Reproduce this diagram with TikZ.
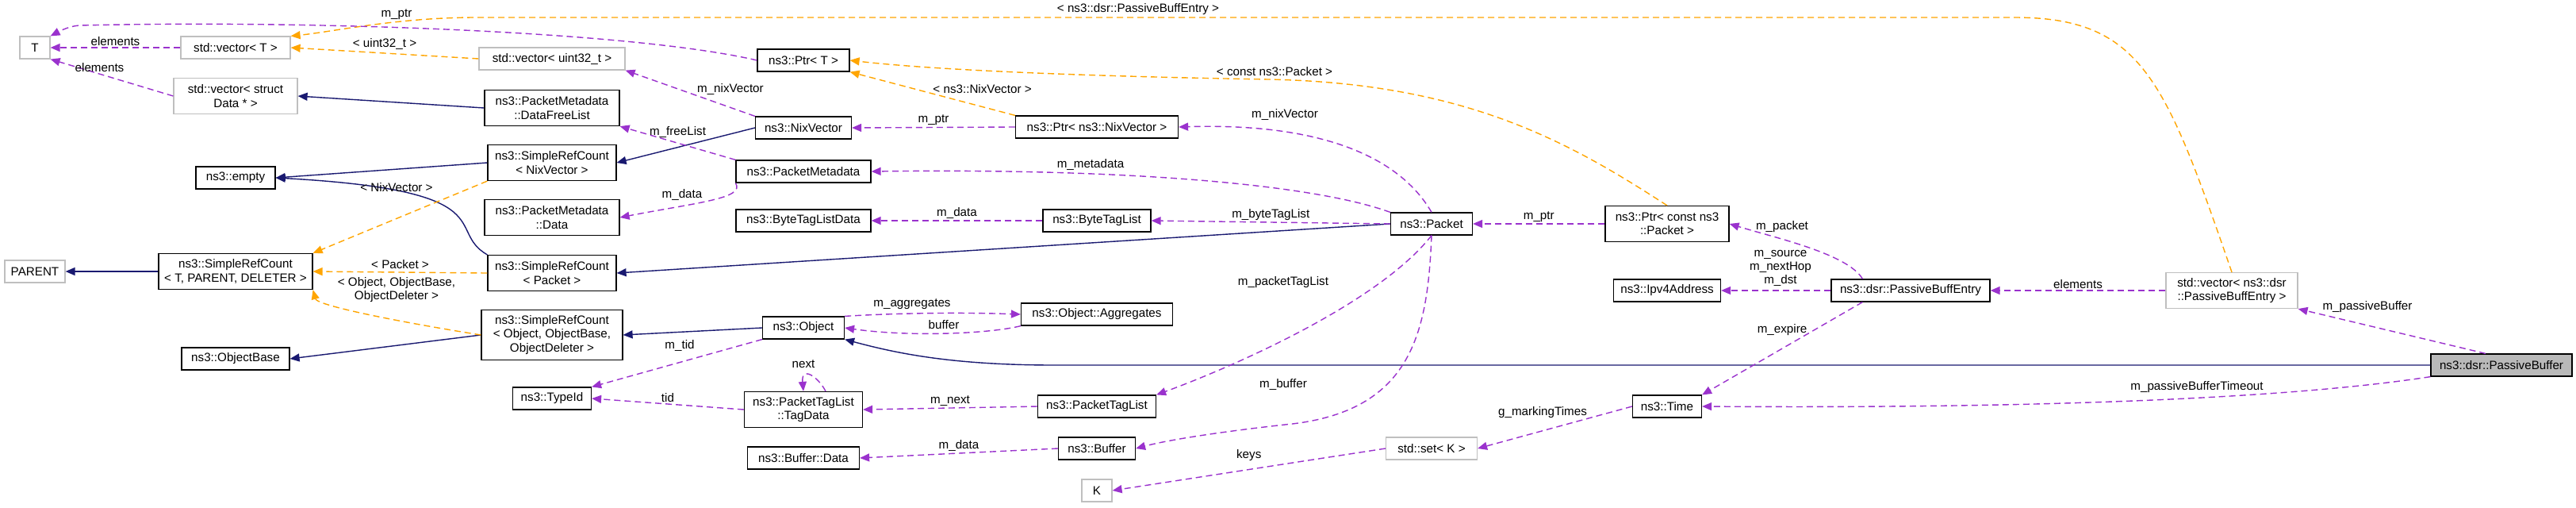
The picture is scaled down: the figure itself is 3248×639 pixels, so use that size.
\documentclass[tikz,border=0pt]{standalone}
\usepackage{fontspec}
\setmainfont{Liberation Sans}
\usetikzlibrary{arrows.meta}
\definecolor{inh}{HTML}{191970}
\definecolor{usr}{HTML}{9A32CD}
\definecolor{tpl}{HTML}{FFA500}
\begin{document}
\begin{tikzpicture}[x=0.5pt,y=-0.5pt,
  font=\fontsize{7.6}{8.6}\selectfont,
  box/.style={draw=black,line width=0.6pt,fill=white,align=center,inner sep=1pt,minimum height=14pt},
  gbox/.style={box,draw=gray!50},
  b2/.style={minimum height=22.5pt},
  b3/.style={minimum height=31.5pt},
  lab/.style={inner sep=0pt,align=center},
  use/.style={draw=usr,line width=0.7pt,dash pattern=on 4pt off 2.5pt,-{Triangle[width=5pt,length=6pt]}},
  inh/.style={draw=inh,line width=0.7pt,-{Triangle[width=5pt,length=6pt]}},
  tpl/.style={draw=tpl,line width=0.7pt,dash pattern=on 4pt off 2.5pt,-{Triangle[width=5pt,length=6pt]}}]
\useasboundingbox (0,0) rectangle (3248,639);
% nodes
\node[gbox,minimum width=19pt] (T) at (44,60) {T};
\node[gbox,minimum width=69pt] (vT) at (297,60) {std::vector< T >};
\node[gbox,minimum width=92pt] (vU) at (696,74) {std::vector< uint32\_t >};
\node[gbox,b2,minimum width=78pt] (vD) at (297,121) {std::vector< struct\\Data * >};
\node[box,b2,minimum width=85pt] (DFL) at (696,136) {ns3::PacketMetadata\\::DataFreeList};
\node[box,b2,minimum width=81pt] (SRN) at (696,205) {ns3::SimpleRefCount\\< NixVector >};
\node[box,minimum width=50pt] (empty) at (297,224) {ns3::empty};
\node[box,b2,minimum width=85pt] (PMD) at (696,274) {ns3::PacketMetadata\\::Data};
\node[gbox,minimum width=38pt] (PARENT) at (44,342) {PARENT};
\node[box,b2,minimum width=97pt] (SRT) at (297,342) {ns3::SimpleRefCount\\< T, PARENT, DELETER >};
\node[box,b2,minimum width=81pt] (SRP) at (696,344) {ns3::SimpleRefCount\\< Packet >};
\node[box,b3,minimum width=89pt] (SRO) at (696,422) {ns3::SimpleRefCount\\< Object, ObjectBase,\\ObjectDeleter >};
\node[box,minimum width=68pt] (OB) at (297,452) {ns3::ObjectBase};
\node[box,minimum width=49.5pt] (TID) at (696,502) {ns3::TypeId};
\node[box,minimum width=58pt] (PtrT) at (1013,76) {ns3::Ptr< T >};
\node[box,minimum width=60.5pt] (NV) at (1013,161) {ns3::NixVector};
\node[box,minimum width=102.5pt] (PtrNV) at (1383,160) {ns3::Ptr< ns3::NixVector >};
\node[box,minimum width=85pt] (PM) at (1013,216) {ns3::PacketMetadata};
\node[box,minimum width=85pt] (BTLD) at (1013,278) {ns3::ByteTagListData};
\node[box,minimum width=68pt] (BTL) at (1383,278) {ns3::ByteTagList};
\node[box,minimum width=51.5pt] (Pkt) at (1805,282) {ns3::Packet};
\node[box,minimum width=51.5pt] (Obj) at (1013,413) {ns3::Object};
\node[box,minimum width=95.5pt] (Agg) at (1383,396) {ns3::Object::Aggregates};
\node[box,b2,minimum width=74.5pt] (TD) at (1013,516) {ns3::PacketTagList\\::TagData};
\node[box,minimum width=74.5pt] (PTL) at (1383,512) {ns3::PacketTagList};
\node[box,minimum width=70.5pt] (BD) at (1013,577) {ns3::Buffer::Data};
\node[box,minimum width=48.5pt] (Buf) at (1383,565) {ns3::Buffer};
\node[gbox,minimum width=19pt] (K) at (1383,618) {K};
\node[gbox,minimum width=57.5pt] (setK) at (1805,565) {std::set< K >};
\node[box,b2,minimum width=78pt] (PtrP) at (2102,282) {ns3::Ptr< const ns3\\::Packet >};
\node[box,minimum width=67.5pt] (IP) at (2102,366) {ns3::Ipv4Address};
\node[box,minimum width=100pt] (PBE) at (2409,366) {ns3::dsr::PassiveBuffEntry};
\node[gbox,b2,minimum width=83pt] (vPBE) at (2814,366) {std::vector< ns3::dsr\\::PassiveBuffEntry >};
\node[box,fill=gray!55,minimum width=89pt] (PB) at (3154,460) {ns3::dsr::PassiveBuffer};
\node[box,minimum width=43.5pt] (Time) at (2102,512) {ns3::Time};
% inheritance
\draw[inh] (DFL.west) -- (vD.east);
\draw[inh] (SRN.west) -- (empty.east);
\draw[inh] (NV.west) -- (SRN.east);
\draw[inh] (SRT.west) -- (PARENT.east);
\draw[inh] (SRP.north west) .. controls (560,290) and (640,240) .. (empty.east);
\draw[inh] (Pkt.west) -- (SRP.east);
\draw[inh] (SRO.west) -- (OB.east);
\draw[inh] (Obj.west) -- (SRO.east);
\draw[inh] (PB.west) -- (1330,460) .. controls (1200,460) and (1130,445) .. (Obj.south east);
% template instances
\draw[tpl] (vU.west) -- (vT.east) node[lab,pos=0.5,above=2pt] (l1) {< uint32\_t >};
\draw[tpl] (vPBE.north) .. controls (2730,100) and (2700,22) .. (2540,22) -- (600,22) .. controls (500,22) and (420,40) .. (vT.north east) ;
\node[lab] (l2) at (1435,12) {< ns3::dsr::PassiveBuffEntry >};
\draw[tpl] (PtrNV.north west) -- (PtrT.south east) node[lab,pos=0.5,above right=0pt] (l3) {< ns3::NixVector >};
\draw[tpl] (PtrP.north) .. controls (1980,180) and (1850,105) .. (1600,100) .. controls (1300,95) and (1150,85) .. (PtrT.east);
\node[lab] (l4) at (1607,90) {< const ns3::Packet >};
\draw[tpl] (SRN.south west) -- (SRT.north east);
\node[lab] (l5) at (500,236) {< NixVector >};
\draw[tpl] (SRP.west) -- (SRT.east) node[lab,pos=0.5,above=2pt] (l6) {< Packet >};
\draw[tpl] (SRO.west) .. controls (500,405) and (400,385) .. (SRT.south east);
\node[lab] (l7) at (500,365) {< Object, ObjectBase,\\ObjectDeleter >};
% usage
\draw[use] (PtrT.west) .. controls (800,40) and (400,25) .. (100,32) .. controls (85,33) and (70,42) .. (T.north east);
\node[lab] (l8) at (500,18) {m\_ptr};
\draw[use] (vT.west) -- (T.east) node[lab,pos=0.5,above=1pt] (l9) {elements};
\draw[use] (vD.west) -- (T.south east) node[lab,pos=0.6,above=1pt] (l10) {elements};
\draw[use] (NV.north west) -- (vU.south east) node[lab,pos=0.45,above right=0pt] (l11) {m\_nixVector};
\draw[use] (PM.north west) -- (DFL.south east) node[lab,pos=0.5,above=3pt] (l12) {m\_freeList};
\draw[use] (PM.south west) .. controls (940,250) and (880,255) .. (PMD.east);
\node[lab] (l13) at (860,245) {m\_data};
\draw[use] (PtrNV.west) -- (NV.east) node[lab,pos=0.5,above=1pt] (l14) {m\_ptr};
\draw[use] (Pkt.north) .. controls (1760,190) and (1650,155) .. (PtrNV.east);
\node[lab] (l15) at (1620,144) {m\_nixVector};
\draw[use] (Pkt.north west) .. controls (1650,230) and (1400,212) .. (PM.east);
\node[lab] (l16) at (1375,207) {m\_metadata};
\draw[use] (BTL.west) -- (BTLD.east) node[lab,pos=0.5,above=1pt] (l17) {m\_data};
\draw[use] (Pkt.west) -- (BTL.east) node[lab,pos=0.5,above=1pt] (l18) {m\_byteTagList};
\draw[use] (Obj.north east) .. controls (1120,395) and (1200,393) .. (Agg.west);
\node[lab] (l19) at (1150,383) {m\_aggregates};
\draw[use] (Agg.south west) .. controls (1250,420) and (1150,425) .. (Obj.east);
\node[lab] (l20) at (1190,409) {buffer};
\draw[use] (Obj.south west) -- (TID.north east);
\node[lab] (l21) at (857,435) {m\_tid};
\draw[use] (TD.west) -- (TID.east) node[lab,pos=0.5,above=1pt] (l22) {tid};
\draw[use] (TD.north) ++(28,0) coordinate (tdr) .. controls (1032,475) and (1010,460) .. (TD.north) ;
\node[lab] (l23) at (1013,459) {next};
\draw[use] (PTL.west) -- (TD.east) node[lab,pos=0.5,above=1pt] (l24) {m\_next};
\draw[use] (Pkt.south) .. controls (1740,380) and (1560,460) .. (PTL.north east);
\node[lab] (l25) at (1618,356) {m\_packetTagList};
\draw[use] (Pkt.south) .. controls (1800,420) and (1780,520) .. (1620,535) .. controls (1530,545) and (1470,555) .. (Buf.east);
\node[lab] (l26) at (1618,484) {m\_buffer};
\draw[use] (Buf.west) -- (BD.east) node[lab,pos=0.5,above=1pt] (l27) {m\_data};
\draw[use] (setK.west) -- (K.east) node[lab,pos=0.5,above=5pt] (l28) {keys};
\draw[use] (PtrP.west) -- (Pkt.east) node[lab,pos=0.5,above=1pt] (l29) {m\_ptr};
\draw[use] (PBE.north west) ++(40,0) .. controls (2330,320) and (2240,300) .. (PtrP.east);
\node[lab] (l30) at (2247,286) {m\_packet};
\draw[use] (PBE.west) -- (IP.east);
\node[lab] (l31) at (2245,338) {m\_source\\m\_nextHop\\m\_dst};
\draw[use] (vPBE.west) -- (PBE.east) node[lab,pos=0.5,above=1pt] (l32) {elements};
\draw[use] (PBE.south west) ++(40,0) -- (Time.north east);
\node[lab] (l33) at (2247,416) {m\_expire};
\draw[use] (Time.west) -- (setK.east);
\node[lab] (l34) at (1945,520) {g\_markingTimes};
\draw[use] (PB.north) ++(-20,0) -- (vPBE.south east);
\node[lab] (l35) at (2985,387) {m\_passiveBuffer};
\draw[use] (PB.south west) .. controls (2900,500) and (2600,515) .. (Time.east);
\node[lab] (l36) at (2770,488) {m\_passiveBufferTimeout};
\end{tikzpicture}
\end{document}
